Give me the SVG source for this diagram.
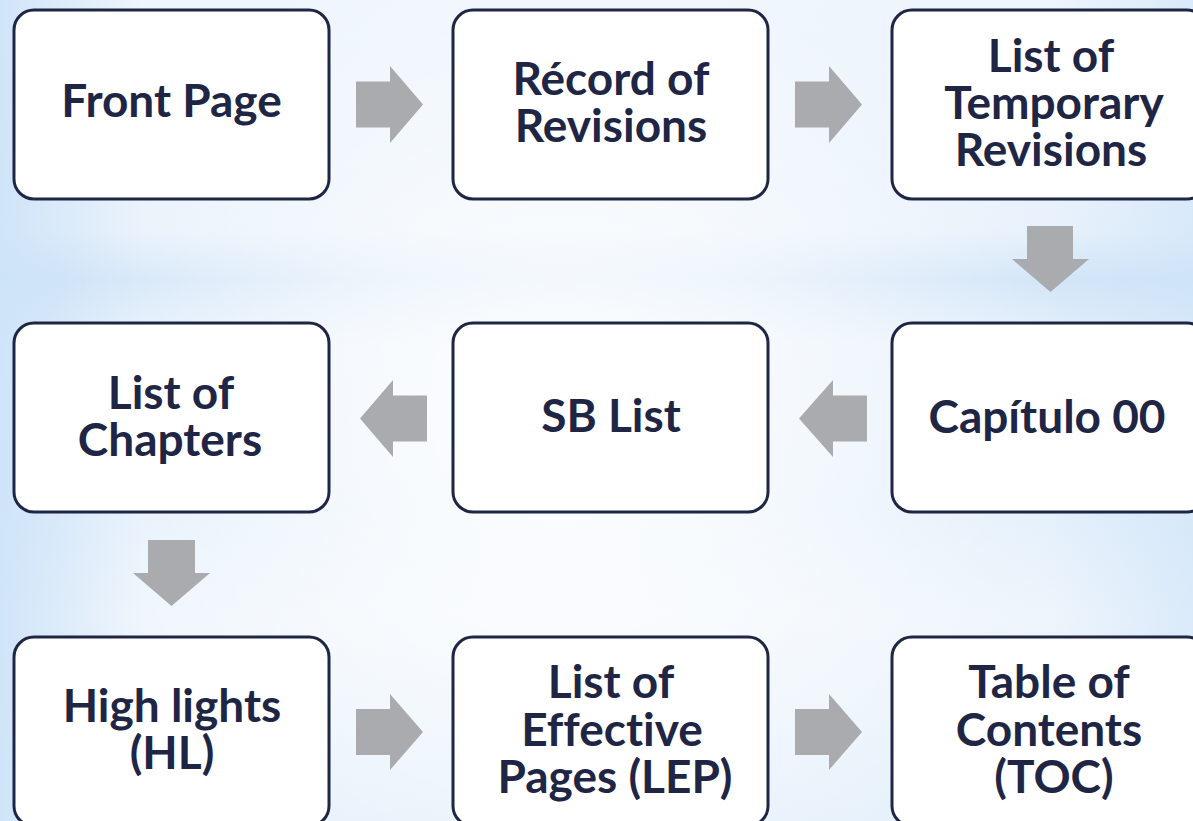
<svg xmlns="http://www.w3.org/2000/svg" width="1193" height="821" viewBox="0 0 1193 821">
<defs>
<linearGradient id="band" x1="0" y1="0" x2="0" y2="1">
<stop offset="0" stop-color="#c6def6" stop-opacity="0"/>
<stop offset="0.28" stop-color="#c6def6" stop-opacity="0.15"/>
<stop offset="0.34" stop-color="#c6def6" stop-opacity="0.7"/>
<stop offset="0.42" stop-color="#c6def6" stop-opacity="0.2"/>
<stop offset="0.62" stop-color="#cfe5f9" stop-opacity="0.35"/>
<stop offset="0.75" stop-color="#cfe5f9" stop-opacity="0"/>
<stop offset="1" stop-color="#cfe5f9" stop-opacity="0.25"/>
</linearGradient>
<linearGradient id="leftg" x1="0" y1="0" x2="1" y2="0">
<stop offset="0" stop-color="#cde3f8" stop-opacity="0.9"/>
<stop offset="0.12" stop-color="#cde3f8" stop-opacity="0"/>
<stop offset="0.88" stop-color="#cde3f8" stop-opacity="0"/>
<stop offset="1" stop-color="#cde3f8" stop-opacity="0.6"/>
</linearGradient>
<radialGradient id="glow" cx="560" cy="420" r="520" gradientUnits="userSpaceOnUse">
<stop offset="0" stop-color="#ffffff" stop-opacity="0.95"/>
<stop offset="0.45" stop-color="#ffffff" stop-opacity="0.6"/>
<stop offset="1" stop-color="#ffffff" stop-opacity="0"/>
</radialGradient>
<style>
.box{fill:#ffffff;stroke:#1f2645;stroke-width:3}
.lbl{font-family:Lato,"Open Sans","DejaVu Sans",sans-serif;font-weight:bold;font-size:46px;fill:#1f2645;text-anchor:middle;font-variant-ligatures:none}
.arr{fill:#a9abae}
</style>
</defs>
<rect width="1193" height="821" fill="#eef5fc"/>
<rect width="1193" height="821" fill="url(#band)"/>
<rect width="1193" height="821" fill="url(#leftg)"/>
<rect width="1193" height="821" fill="url(#glow)"/>

<g id="connectors">
<polygon class="arr" points="356,81.5 390,81.5 390,66 423,104.5 390,143 390,127.5 356,127.5"/>
<polygon class="arr" points="795,81.5 829,81.5 829,66 862,104.5 829,143 829,127.5 795,127.5"/>
<polygon class="arr" points="1027,226 1073,226 1073,259 1089,259 1050.5,292 1012,259 1027,259"/>
<polygon class="arr" points="867,395.5 833,395.5 833,380 799,418.5 833,457 833,441.5 867,441.5"/>
<polygon class="arr" points="427,395.5 393,395.5 393,380 360,418.5 393,457 393,441.5 427,441.5"/>
<polygon class="arr" points="148,540 195,540 195,573 210,573 171.5,606 133,573 148,573"/>
<polygon class="arr" points="356,709 390,709 390,694 423,732 390,770 390,755 356,755"/>
<polygon class="arr" points="795,709 829,709 829,694 862,732 829,770 829,755 795,755"/>
</g>

<g id="node-front-page">
<rect class="box" x="14" y="10" width="315" height="189" rx="20"/>
<text class="lbl" x="171.5" y="117">Front Page</text>
</g>
<g id="node-record-of-revisions">
<rect class="box" x="453" y="10" width="315" height="189" rx="20"/>
<text class="lbl" x="611" y="95">Récord of</text>
<text class="lbl" x="611" y="142">Revisions</text>
</g>
<g id="node-list-temporary-revisions">
<rect class="box" x="892" y="10" width="315" height="189" rx="20"/>
<text class="lbl" x="1051" y="72">List of</text>
<text class="lbl" x="1054" y="119">Temporary</text>
<text class="lbl" x="1051" y="166">Revisions</text>
</g>
<g id="node-capitulo-00">
<rect class="box" x="892" y="323" width="315" height="189" rx="20"/>
<text class="lbl" x="1047" y="433">Capítulo 00</text>
</g>
<g id="node-sb-list">
<rect class="box" x="453" y="323" width="315" height="189" rx="20"/>
<text class="lbl" x="611" y="432">SB List</text>
</g>
<g id="node-list-of-chapters">
<rect class="box" x="14" y="323" width="315" height="189" rx="20"/>
<text class="lbl" x="171" y="409">List of</text>
<text class="lbl" x="170" y="456">Chapters</text>
</g>
<g id="node-high-lights">
<rect class="box" x="14" y="637" width="315" height="189" rx="20"/>
<text class="lbl" x="172" y="722">High lights</text>
<text class="lbl" x="172" y="769">(HL)</text>
</g>
<g id="node-lep">
<rect class="box" x="453" y="637" width="315" height="189" rx="20"/>
<text class="lbl" x="611" y="698">List of</text>
<text class="lbl" x="612" y="746">Effective</text>
<text class="lbl" x="615" y="793">Pages (LEP)</text>
</g>
<g id="node-toc">
<rect class="box" x="892" y="637" width="315" height="189" rx="20"/>
<text class="lbl" x="1049" y="698">Table of</text>
<text class="lbl" x="1049" y="746">Contents</text>
<text class="lbl" x="1054" y="793">(TOC)</text>
</g>
</svg>
